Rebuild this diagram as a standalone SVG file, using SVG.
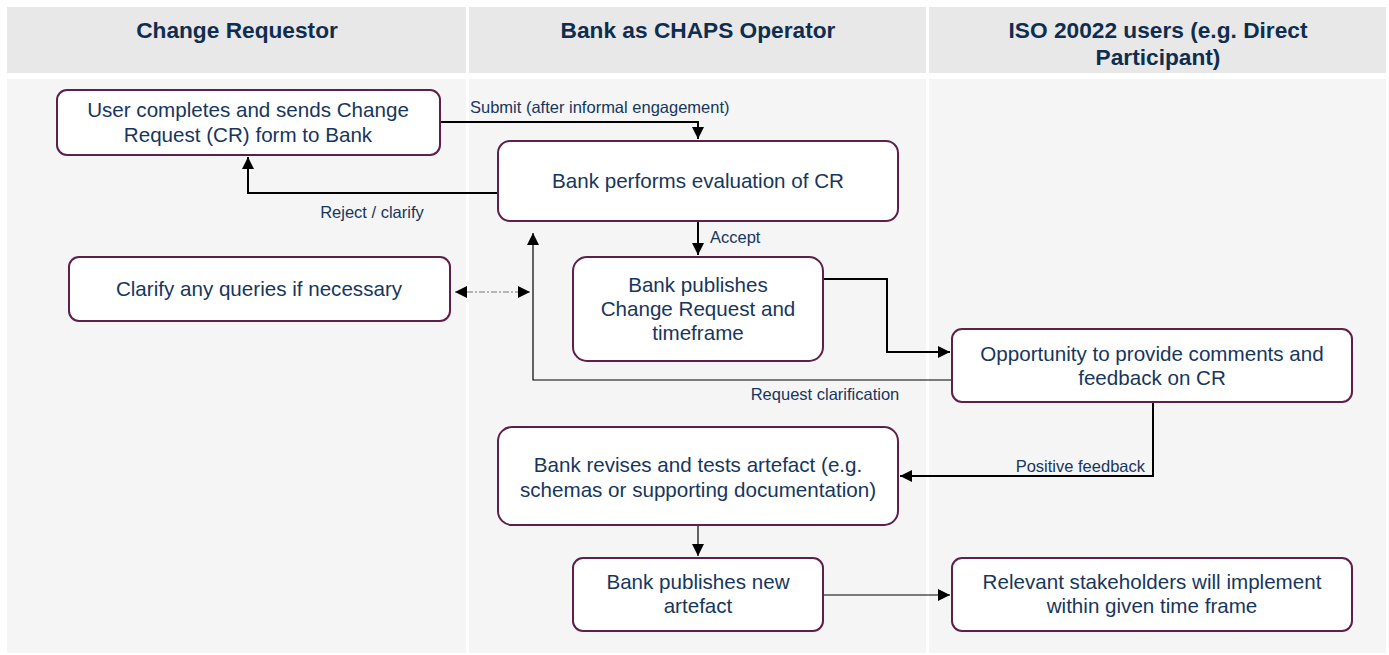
<svg xmlns="http://www.w3.org/2000/svg" width="1389" height="655" viewBox="0 0 1389 655">
<style>
.hdr{fill:#e8e8e8}
.body{fill:#f5f5f5}
.ht{font-family:"Liberation Sans",Arial,sans-serif;font-size:22.7px;font-weight:bold;fill:#0f2d4f;text-anchor:middle}
.node rect{fill:#ffffff;stroke:#5e1f4b;stroke-width:2}
.nt{font-family:"Liberation Sans",Arial,sans-serif;font-size:20.6px;fill:#17365d;text-anchor:middle}
.lbl{font-family:"Liberation Sans",Arial,sans-serif;font-size:16.5px;fill:#17365d}
.c{fill:none;stroke:#000;stroke-width:2}
.thin{fill:none;stroke:#000;stroke-width:1.2}
.dot{fill:none;stroke:#777;stroke-width:1.2;stroke-dasharray:6 2 2 2}
</style>
<defs>
<marker id="b" viewBox="0 0 10 10" refX="10" refY="5" markerWidth="12" markerHeight="12" markerUnits="userSpaceOnUse" orient="auto"><path d="M0,0L10,5L0,10z" fill="#000"/></marker>
<marker id="bs" viewBox="0 0 10 10" refX="0" refY="5" markerWidth="12" markerHeight="12" markerUnits="userSpaceOnUse" orient="auto"><path d="M10,0L0,5L10,10z" fill="#000"/></marker>
</defs>
<rect width="1389" height="655" fill="#ffffff"/>
<g id="lanes">
<rect class="hdr" x="7" y="7" width="459" height="66"/>
<rect class="hdr" x="469" y="7" width="457" height="66"/>
<rect class="hdr" x="929" y="7" width="457" height="66"/>
<rect class="body" x="7" y="79" width="459" height="574"/>
<rect class="body" x="469" y="79" width="457" height="574"/>
<rect class="body" x="929" y="79" width="457" height="574"/>
<text class="ht" x="237" y="38">Change Requestor</text>
<text class="ht" x="698" y="38">Bank as CHAPS Operator</text>
<text class="ht" x="1158" y="38">ISO 20022 users (e.g. Direct</text>
<text class="ht" x="1158" y="65">Participant)</text>
</g>
<g id="connectors">
<path class="c" d="M440,122H698V139" marker-end="url(#b)"/>
<text class="lbl" x="470" y="113">Submit (after informal engagement)</text>
<path class="c" d="M498,193H248V157" marker-end="url(#b)"/>
<text class="lbl" x="372" y="218" text-anchor="middle">Reject / clarify</text>
<path class="c" d="M698,221V255" marker-end="url(#b)"/>
<text class="lbl" x="710" y="243">Accept</text>
<path class="c" d="M823,279H887V352H950" stroke-width="2.5" marker-end="url(#b)"/>
<path class="thin" d="M952,380H533V233" marker-end="url(#b)"/>
<text class="lbl" x="825" y="400" text-anchor="middle">Request clarification</text>
<path class="dot" d="M455,292H530" marker-start="url(#bs)" marker-end="url(#b)"/>
<path class="c" d="M1153,402V476H900" marker-end="url(#b)"/>
<text class="lbl" x="1145" y="472" text-anchor="end">Positive feedback</text>
<path class="thin" d="M698,525V556" stroke-width="1.8" marker-end="url(#b)"/>
<path class="thin" d="M823,595H950" marker-end="url(#b)"/>
</g>
<g id="n1" class="node"><rect x="57" y="90" width="383" height="65" rx="10"/><text class="nt" x="248" y="117">User completes and sends Change</text><text class="nt" x="248" y="142">Request (CR) form to Bank</text></g>
<g id="n2" class="node"><rect x="498" y="141" width="400" height="80" rx="12"/><text class="nt" x="698" y="188">Bank performs evaluation of CR</text></g>
<g id="n3" class="node"><rect x="69" y="257" width="381" height="64" rx="10"/><text class="nt" x="259" y="296">Clarify any queries if necessary</text></g>
<g id="n4" class="node"><rect x="573" y="257" width="250" height="104" rx="14"/><text class="nt" x="698" y="292">Bank publishes</text><text class="nt" x="698" y="316">Change Request and</text><text class="nt" x="698" y="340">timeframe</text></g>
<g id="n5" class="node"><rect x="952" y="329" width="400" height="73" rx="10"/><text class="nt" x="1152" y="361">Opportunity to provide comments and</text><text class="nt" x="1152" y="385">feedback on CR</text></g>
<g id="n6" class="node"><rect x="498" y="427" width="400" height="98" rx="14"/><text class="nt" x="698" y="472">Bank revises and tests artefact (e.g.</text><text class="nt" x="698" y="497">schemas or supporting documentation)</text></g>
<g id="n7" class="node"><rect x="573" y="558" width="250" height="73" rx="10"/><text class="nt" x="698" y="589">Bank publishes new</text><text class="nt" x="698" y="613">artefact</text></g>
<g id="n8" class="node"><rect x="952" y="558" width="400" height="73" rx="10"/><text class="nt" x="1152" y="589">Relevant stakeholders will implement</text><text class="nt" x="1152" y="613">within given time frame</text></g>
</svg>
